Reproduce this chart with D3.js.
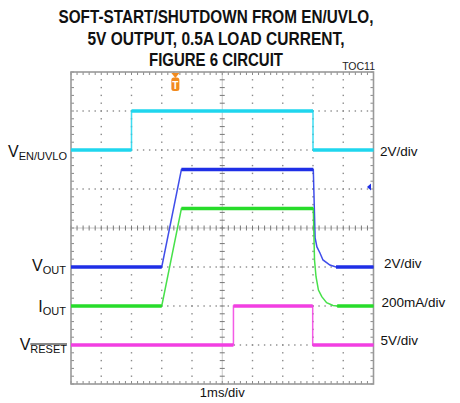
<!DOCTYPE html>
<html>
<head>
<meta charset="utf-8">
<script src="https://cdn.jsdelivr.net/npm/d3@7"></script>
<style>
  html, body { margin: 0; padding: 0; background: #fff; }
  svg { display: block; }
  text { font-family: "Liberation Sans", Arial, sans-serif; }
</style>
</head>
<body>
<svg id="chart" width="460" height="403"></svg>
<script>
// ---------------- DATA ----------------
const titleLines = ["SOFT-START/SHUTDOWN FROM EN/UVLO,", "5V OUTPUT, 0.5A LOAD CURRENT,", "FIGURE 6 CIRCUIT"];
const figureId = "TOC11";
const timeLabel = "1ms/div";

// time in ms (0 = left edge of screen, 1 ms per division)
const enTime   = [0, 2.0, 2.0, 8.0, 8.0, 10];
const enValue  = [0, 0, 2, 2, 0, 0];                       // V

const voutTime  = [0, 3.0, 3.65, 8.01, 8.07, 8.13, 8.23, 8.33, 8.56, 8.76, 10];
const voutValue = [0, 0, 5, 5, 1.49, 1.03, 0.72, 0.36, 0.10, 0, 0];   // V

const ioutTime  = [0, 3.0, 3.65, 8.01, 8.05, 8.10, 8.18, 8.29, 8.45, 8.66, 8.80, 10];
const ioutValue = [0, 0, 0.5, 0.5, 0.236, 0.150, 0.082, 0.048, 0.017, 0.003, 0, 0]; // A

const resetTime  = [0, 5.37, 5.37, 7.99, 7.99, 10];
const resetValue = [0, 0, 5, 5, 0, 0];                     // V

// channel settings: ground position (division from bottom), units per division
const channelNames   = ["EN", "VOUT", "IOUT", "RESET"];
const channelGround  = [6, 3, 2, 1];
const channelPerDiv  = [2, 2, 0.2, 5];
const channelScales  = ["2V/div", "2V/div", "200mA/div", "5V/div"];
const channelColors  = ["#1fd6ee", "#1f2fe6", "#27dc2a", "#f23fe2"];

const triggerTime = 3.45;       // ms
const triggerLevel = 4.1;       // V on VOUT channel

// ---------------- LAYOUT ----------------
const svg = d3.select("#chart");
const L = 71, R = 373.5, T = 72, B = 384;
const x = d3.scaleLinear().domain([0, 10]).range([L, R]);
const y = d3.scaleLinear().domain([0, 8]).range([B, T]);
const gridColor = "#8a8a8a";

// ---- title ----
const titleY = [23, 44.5, 65.5];
const titleW = [315, 257, 134];
titleLines.forEach((t, i) => {
  svg.append("text")
    .attr("x", 216).attr("y", titleY[i])
    .attr("text-anchor", "middle")
    .attr("font-weight", "bold")
    .attr("font-size", 17.5)
    .attr("textLength", titleW[i])
    .attr("lengthAdjust", "spacingAndGlyphs")
    .attr("fill", "#111")
    .text(t);
});
svg.append("text").attr("x", 375).attr("y", 69.5).attr("text-anchor", "end")
  .attr("font-size", 10.5).attr("fill", "#222").text(figureId);

// ---- grid ----
const g = svg.append("g");
const minorX = d3.range(0, 10.0001, 0.2);
const minorY = d3.range(0, 8.0001, 0.2);
// dotted gridlines
d3.range(1, 10).filter(i => i !== 5).forEach(i => {
  g.selectAll(null).data(minorY.slice(1, -1)).enter().append("rect")
    .attr("x", x(i) - 0.7).attr("y", d => y(d) - 0.7).attr("width", 1.4).attr("height", 1.4)
    .attr("fill", gridColor);
});
d3.range(1, 8).filter(j => j !== 4).forEach(j => {
  g.selectAll(null).data(minorX.slice(1, -1)).enter().append("rect")
    .attr("x", d => x(d) - 0.7).attr("y", y(j) - 0.7).attr("width", 1.4).attr("height", 1.4)
    .attr("fill", gridColor);
});
// center axes
g.append("line").attr("x1", x(5)).attr("x2", x(5)).attr("y1", T).attr("y2", B)
  .attr("stroke", "#c8c8c8").attr("stroke-width", 1);
g.append("line").attr("x1", L).attr("x2", R).attr("y1", y(4)).attr("y2", y(4))
  .attr("stroke", "#c8c8c8").attr("stroke-width", 1);
g.selectAll(null).data(minorY).enter().append("line")
  .attr("x1", x(5) - 2.5).attr("x2", x(5) + 2.5).attr("y1", d => y(d)).attr("y2", d => y(d))
  .attr("stroke", "#777").attr("stroke-width", 1);
g.selectAll(null).data(minorX).enter().append("line")
  .attr("y1", y(4) - 2.5).attr("y2", y(4) + 2.5).attr("x1", d => x(d)).attr("x2", d => x(d))
  .attr("stroke", "#777").attr("stroke-width", 1);
// border ticks
g.selectAll(null).data(minorX).enter().append("line")
  .attr("x1", d => x(d)).attr("x2", d => x(d)).attr("y1", T).attr("y2", T + 3)
  .attr("stroke", "#888").attr("stroke-width", 1);
g.selectAll(null).data(minorX).enter().append("line")
  .attr("x1", d => x(d)).attr("x2", d => x(d)).attr("y1", B).attr("y2", B - 3)
  .attr("stroke", "#888").attr("stroke-width", 1);
g.selectAll(null).data(minorY).enter().append("line")
  .attr("y1", d => y(d)).attr("y2", d => y(d)).attr("x1", L).attr("x2", L + 3)
  .attr("stroke", "#888").attr("stroke-width", 1);
g.selectAll(null).data(minorY).enter().append("line")
  .attr("y1", d => y(d)).attr("y2", d => y(d)).attr("x1", R).attr("x2", R - 3)
  .attr("stroke", "#888").attr("stroke-width", 1);
g.append("rect").attr("x", L).attr("y", T).attr("width", R - L).attr("height", B - T)
  .attr("fill", "none").attr("stroke", "#999").attr("stroke-width", 1.6);

// ---- traces ----
const series = [
  [enTime, enValue], [voutTime, voutValue], [ioutTime, ioutValue], [resetTime, resetValue]
];
const traceG = svg.append("g");
series.forEach(([ts, vs], c) => {
  const pts = ts.map((t, i) => [x(t), y(channelGround[c] + vs[i] / channelPerDiv[c])]);
  const line = d3.line();
  // thin full trace (transitions)
  traceG.append("path").attr("d", line(pts)).attr("fill", "none")
    .attr("stroke", channelColors[c]).attr("stroke-width", 1.5).attr("stroke-opacity", 0.85);
  // thicker flat (noisy) parts
  for (let i = 0; i < pts.length - 1; i++) {
    if (vs[i] === vs[i + 1] && ts[i + 1] > ts[i]) {
      traceG.append("line")
        .attr("x1", pts[i][0]).attr("x2", pts[i + 1][0])
        .attr("y1", pts[i][1]).attr("y2", pts[i + 1][1])
        .attr("stroke", channelColors[c]).attr("stroke-width", 3.4);
    }
  }
});

// ---- trigger markers ----
const tx = x(triggerTime);
svg.append("path")
  .attr("d", `M${tx - 4},${T + 1} L${tx + 4},${T + 1} L${tx},${T + 6} Z`)
  .attr("fill", "#f28a1e");
svg.append("rect").attr("x", tx - 4).attr("y", T + 5.5).attr("width", 8).attr("height", 13.5)
  .attr("rx", 2.5).attr("fill", "#f28a1e");
svg.append("text").attr("x", tx).attr("y", T + 16.5).attr("text-anchor", "middle")
  .attr("font-size", 10).attr("font-weight", "bold").attr("fill", "#fff").text("T");
const ly = y(channelGround[1] + triggerLevel / channelPerDiv[1]);
svg.append("path")
  .attr("d", `M${R - 6.5},${ly} L${R - 2.5},${ly - 3.5} L${R - 2.5},${ly + 3.5} Z`)
  .attr("fill", channelColors[1]);

// ---- channel labels ----
const leftLabels = [
  { main: "V", sub: "EN/UVLO", x: 67, y: 157, over: false },
  { main: "V", sub: "OUT", x: 66, y: 270.5, over: false },
  { main: "I", sub: "OUT", x: 66, y: 311.5, over: false },
  { main: "V", sub: "RESET", x: 67, y: 350, over: true }
];
leftLabels.forEach(l => {
  const t = svg.append("text").attr("x", l.x).attr("y", l.y).attr("text-anchor", "end")
    .attr("fill", "#111");
  t.append("tspan").attr("font-size", 16).text(l.main);
  const s = t.append("tspan").attr("font-size", 11).attr("dy", 3).text(l.sub);
  if (l.over) {
    const w = s.node().getComputedTextLength();
    svg.append("line").attr("x1", l.x - w).attr("x2", l.x)
      .attr("y1", l.y - 6).attr("y2", l.y - 6)
      .attr("stroke", "#111").attr("stroke-width", 1);
  }
});
const rightY = [155.5, 268, 307, 345];
const rightX = [380, 384, 381.5, 380.5];
channelScales.forEach((s, i) => {
  svg.append("text").attr("x", rightX[i]).attr("y", rightY[i])
    .attr("font-size", 13.5).attr("fill", "#111").text(s);
});
svg.append("text").attr("x", x(5)).attr("y", 397).attr("text-anchor", "middle")
  .attr("font-size", 13).attr("fill", "#111").text(timeLabel);
</script>
</body>
</html>
